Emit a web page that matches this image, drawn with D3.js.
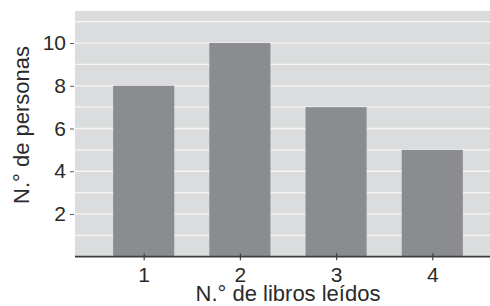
<!DOCTYPE html>
<html><head><meta charset="utf-8">
<script src="https://cdn.jsdelivr.net/npm/d3@7"></script>
<style>body{margin:0;background:#fff}svg{display:block}text{font-family:"Liberation Sans",Arial,sans-serif;fill:#2a2a2a}</style>
</head><body><svg id="c" width="490" height="306"></svg>
<script>
const categories = [1, 2, 3, 4];
const values = [8, 10, 7, 5];
const yTicks = [2, 4, 6, 8, 10];
const gridValues = [1,2,3,4,5,6,7,8,9,10,11];
const xTitle = "N.° de libros leídos";
const yTitle = "N.° de personas";

const svg = d3.select("#c");
const L = 75, R = 490, T = 11, B = 256.7;
const x = d3.scaleLinear().domain([0.286, 4.6]).range([L, R]);
const y = d3.scaleLinear().domain([0, 11.5]).range([B, T]);
const step = x(2) - x(1);
const bw = step * 0.635;

svg.append("rect").attr("x", L).attr("y", T).attr("width", R - L).attr("height", B - T).attr("fill", "#dbdcdd");
svg.append("g").selectAll("line").data(gridValues).join("line")
  .attr("x1", L).attr("x2", R).attr("y1", d => y(d)).attr("y2", d => y(d))
  .attr("stroke", "#f5f5f5").attr("stroke-width", 1.3);

svg.append("g").selectAll("rect").data(categories).join("rect")
  .attr("x", (d) => x(d) - bw / 2).attr("width", bw)
  .attr("y", (d, i) => y(values[i])).attr("height", (d, i) => y(0) - y(values[i]))
  .attr("fill", "#8b8c8f");

const tickFont = "DejaVu Sans, sans-serif";
const yAxis = svg.append("g").attr("transform", `translate(${L - 1},0)`)
  .call(d3.axisLeft(y).tickValues(yTicks).tickSize(4).tickPadding(4).tickFormat(d3.format("d")));
yAxis.select(".domain").remove();
yAxis.selectAll(".tick line").attr("stroke", "#555").attr("stroke-width", 1);
yAxis.selectAll(".tick text").attr("font-size", 21).attr("font-family", tickFont).attr("fill", "#2a2a2a");

const xAxis = svg.append("g").attr("transform", `translate(0,${B})`)
  .call(d3.axisBottom(x).tickValues(categories).tickSize(3.5).tickPadding(7).tickFormat(d3.format("d")));
xAxis.select(".domain").remove();
xAxis.selectAll(".tick line").attr("y1", -3.5).attr("stroke", "#444").attr("stroke-width", 1.2);
xAxis.selectAll(".tick text").attr("font-size", 21).attr("font-family", tickFont).attr("fill", "#2a2a2a");
svg.append("line").attr("x1", L).attr("x2", R).attr("y1", B).attr("y2", B).attr("stroke", "#3d3d3d").attr("stroke-width", 1.8);

svg.append("text").attr("x", 288).attr("y", 301).attr("text-anchor", "middle").attr("font-size", 22).text(xTitle);
svg.append("text").attr("transform", "translate(28.5,125) rotate(-90)").attr("text-anchor", "middle").attr("font-size", 22).text(yTitle);
</script></body></html>
